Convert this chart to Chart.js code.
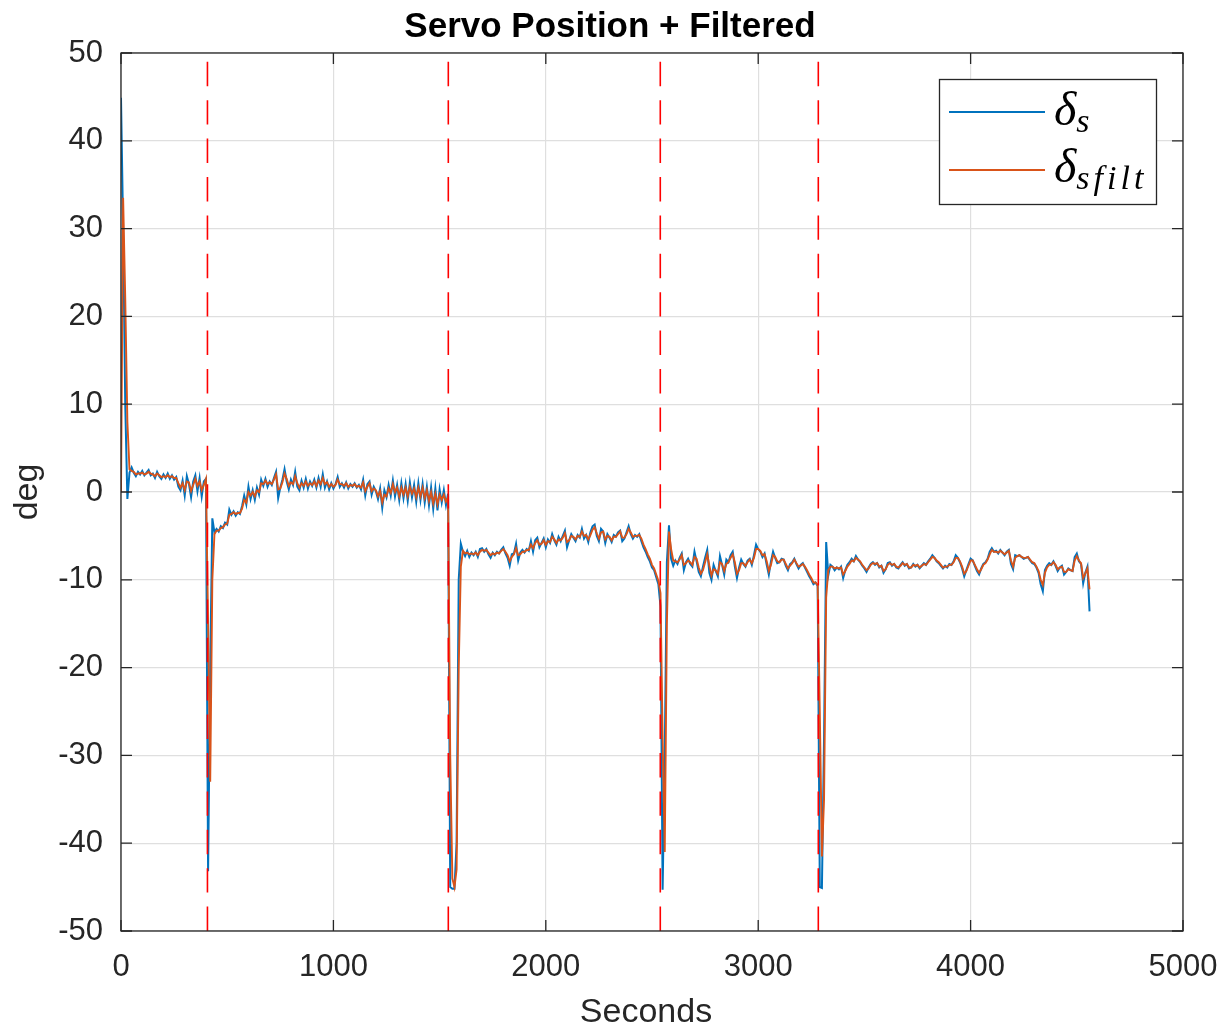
<!DOCTYPE html>
<html>
<head>
<meta charset="utf-8">
<title>Servo Position + Filtered</title>
<script src="https://cdn.jsdelivr.net/npm/chart.js@4.4.1/dist/chart.umd.min.js"></script>
<style>
  html, body { margin: 0; padding: 0; background: #fff; }
  #wrap { width: 1225px; height: 1031px; }
</style>
</head>
<body>
<div id="wrap"><canvas id="servoChart" width="1225" height="1031"></canvas></div>
<script>
// sampling step of the log (seconds)
const sampleStep = 10;

// servo position, one row per 100 s
const servo = [
  44.9, 30, 10, -0.8, 2.2, 2.8, 2.2, 1.8, 2.3, 2.0,
  2.4, 1.9, 2.2, 2.5, 1.9, 2.1, 1.6, 2.3, 1.8, 1.5,
  2.0, 1.6, 2.1, 1.5, 1.9, 1.4, 1.7, 0.6, 0.2, 1.3,
  -0.4, 1.8, 0.9, -0.6, 1.2, 1.9, 0.1, 1.6, -0.5, 1.2,
  1.5, -43.2, -20, -3.0, -4.6, -4.2, -4.5, -3.9, -4.1, -3.5,
  -3.7, -2.0, -2.6, -2.2, -2.7, -2.3, -2.5, -1.6, -0.4, -1.4,
  0.6, -0.8, 0.2, -0.9, 0.5, -0.3, 1.4, 0.7, 1.5, 0.6,
  1.2, 0.8, 1.6, 2.3, -0.7, 0.5, 1.4, 2.6, 1.2, 0.3,
  1.4, 0.8, 2.3, 0.6, 0.2, 1.3, 0.5, 1.5, 0.4, 1.2,
  0.7, 1.4, 0.5, 1.6, 0.6, 2.0, 0.5, 1.2, 0.3, 1.0,
  0.4, 0.9, 1.7, 0.6, 1.0, 0.5, 1.1, 0.4, 0.9, 0.6,
  1.0, 0.5, 0.8, 0.3, 1.4, -0.4, 0.9, 1.2, -0.3, 0.6,
  0.1, -0.8, 0.4, -1.8, 0.2, -0.6, 0.8, -0.4, 1.3, -0.5,
  0.8, -0.9, 1.0, -0.7, 0.9, -1.0, 1.1, -0.6, 0.8, -1.1,
  1.0, -0.9, 0.9, -1.2, 0.6, -1.5, 0.5, -1.9, 0.4, -2.1,
  0.3, -1.2, 0.2, -1.5, -0.2, -45.0, -45.2, -45.2, -40, -10,
  -5.9, -6.8, -7.3, -6.7, -7.4, -6.9, -7.2, -6.8, -7.4, -6.5,
  -6.4, -6.8, -6.5, -7.1, -7.5, -6.9, -7.2, -6.8, -7.0, -6.6,
  -6.3, -7.0, -7.5, -8.4, -7.1, -7.0, -5.9, -7.8, -6.9, -6.6,
  -6.9, -6.5, -6.7, -5.6, -6.8, -5.5, -5.2, -6.3, -5.8, -5.3,
  -6.3, -5.4, -5.8, -4.8, -5.5, -6.0, -5.1, -5.6, -5.0, -4.4,
  -6.3, -5.5, -4.8, -5.2, -5.6, -4.9, -5.2, -4.2, -5.3, -4.9,
  -5.7, -4.6, -3.9, -3.7, -5.0, -5.6, -4.2, -4.5, -5.8, -4.8,
  -5.2, -5.7, -4.9, -5.1, -4.6, -4.4, -5.6, -5.3, -4.6, -3.9,
  -4.8, -5.3, -4.9, -5.1, -4.8, -5.6, -6.3, -6.8, -7.4, -7.9,
  -8.6, -8.9, -9.7, -10.5, -13, -45.3, -30, -8, -3.8, -7.6,
  -8.4, -7.8, -8.2, -7.5, -7.0, -8.9, -8.0, -7.6, -8.2, -8.5,
  -6.8, -7.9, -9.1, -9.6, -8.5, -7.5, -6.6, -9.2, -10.0, -8.3,
  -9.0, -9.6, -7.3, -8.3, -9.4, -7.7, -8.0, -7.2, -6.8, -8.5,
  -9.8, -8.6, -7.7, -8.2, -8.5, -7.8, -7.6, -8.3, -7.2, -6.0,
  -6.5, -6.8, -7.4, -7.0, -8.3, -9.4, -7.9, -6.8, -7.5, -8.1,
  -8.0, -7.6, -7.7, -8.4, -8.9, -8.2, -8.0, -7.6, -8.2, -8.7,
  -8.3, -8.1, -8.6, -9.1, -9.6, -10.0, -10.5, -10.3, -10.7, -45.0,
  -45.1, -28, -5.7, -9.5, -8.3, -8.5, -8.9, -8.6, -8.8, -8.5,
  -9.8, -8.9, -8.3, -8.0, -7.6, -7.9, -7.3, -7.7, -8.0, -8.4,
  -8.7, -9.1, -8.6, -8.2, -8.0, -8.3, -8.1, -8.6, -8.4, -9.2,
  -8.8, -8.1, -8.0, -8.4, -8.2, -8.6, -8.7, -8.3, -8.0, -8.4,
  -8.2, -8.7, -8.6, -8.2, -8.5, -8.3, -8.7, -8.4, -8.1, -8.3,
  -7.9, -7.6, -7.2, -7.5, -7.9, -8.1, -8.4, -8.7, -8.4, -8.6,
  -8.2, -8.3, -7.9, -7.2, -7.5, -8.0, -8.7, -9.6, -8.9, -8.2,
  -7.6, -7.8, -8.4, -9.0, -9.4, -8.7, -8.2, -8.0, -7.6, -6.8,
  -6.4, -6.8, -6.7, -7.0, -6.6, -6.9, -7.2, -6.8, -6.6, -8.2,
  -8.8, -7.2, -7.3, -7.2, -7.4, -7.6, -7.5, -7.4, -7.8, -8.1,
  -8.2, -8.6, -9.2, -10.5, -11.3, -8.9, -8.4, -8.1, -8.3, -7.9,
  -8.4, -9.0, -8.6, -8.4, -9.4, -9.1, -8.7, -8.9, -9.0, -7.4,
  -7.0, -7.9, -8.2, -10.4, -9.2, -8.5, -13.6
];

// filtered servo position, same sampling
const servoFilt = [
  0, 33.5, 22, 8, 2.6, 2.4, 2.3, 2.0, 2.1, 2.1,
  2.2, 2.0, 2.1, 2.3, 2.1, 2.0, 1.8, 2.1, 1.9, 1.7,
  1.8, 1.7, 1.9, 1.7, 1.8, 1.6, 1.6, 1.0, 0.5, 1.0,
  0.2, 1.2, 1.1, 0.1, 0.8, 1.5, 0.7, 1.2, 0.2, 0.8,
  1.5, -15, -33, -10, -4.8, -4.4, -4.4, -4.1, -4.0, -3.7,
  -3.6, -2.6, -2.5, -2.3, -2.5, -2.4, -2.4, -1.9, -0.9, -1.2,
  0.0, -0.4, 0.0, -0.5, 0.2, 0.0, 1.0, 0.9, 1.3, 0.9,
  1.1, 0.9, 1.4, 2.0, 0.3, 0.4, 1.1, 2.1, 1.5, 0.7,
  1.1, 0.9, 1.8, 1.0, 0.5, 1.0, 0.7, 1.2, 0.7, 1.0,
  0.8, 1.2, 0.7, 1.3, 0.9, 1.6, 0.9, 1.1, 0.6, 0.9,
  0.6, 0.8, 1.4, 0.9, 0.9, 0.7, 1.0, 0.6, 0.8, 0.7,
  0.9, 0.6, 0.7, 0.5, 1.1, 0.1, 0.6, 1.0, 0.1, 0.4,
  0.2, -0.5, 0.1, -1.2, -0.3, -0.5, 0.4, -0.1, 0.9, 0.0,
  0.5, -0.5, 0.5, -0.3, 0.5, -0.5, 0.6, -0.2, 0.4, -0.6,
  0.5, -0.5, 0.5, -0.7, 0.2, -1.0, 0.0, -1.3, -0.2, -1.4,
  -0.3, -0.9, -0.3, -1.1, -0.6, -30, -44, -45, -43, -20,
  -8.5, -6.7, -7.0, -6.9, -7.1, -7.0, -7.1, -6.9, -7.2, -6.8,
  -6.6, -6.7, -6.6, -6.9, -7.2, -7.0, -7.1, -6.9, -7.0, -6.7,
  -6.5, -6.8, -7.2, -7.9, -7.4, -7.1, -6.4, -7.2, -7.1, -6.8,
  -6.8, -6.6, -6.6, -6.0, -6.4, -5.8, -5.5, -6.0, -5.9, -5.5,
  -6.0, -5.6, -5.7, -5.1, -5.4, -5.8, -5.4, -5.5, -5.2, -4.7,
  -5.7, -5.5, -5.0, -5.1, -5.4, -5.0, -5.1, -4.5, -5.0, -4.9,
  -5.4, -4.9, -4.3, -4.0, -4.7, -5.3, -4.6, -4.5, -5.4, -5.0,
  -5.1, -5.5, -5.1, -5.1, -4.8, -4.5, -5.2, -5.2, -4.8, -4.2,
  -4.6, -5.1, -5.0, -5.0, -4.9, -5.3, -6.0, -6.5, -7.1, -7.6,
  -8.3, -8.7, -9.4, -10.1, -11.5, -28, -41, -15, -4.5, -6.5,
  -7.8, -7.9, -8.0, -7.7, -7.2, -8.3, -8.1, -7.8, -8.0, -8.3,
  -7.4, -7.6, -8.6, -9.3, -8.9, -8.0, -7.1, -8.4, -9.5, -8.8,
  -8.9, -9.3, -8.0, -8.2, -9.0, -8.2, -8.0, -7.5, -7.1, -8.0,
  -9.3, -8.9, -8.1, -8.1, -8.4, -8.0, -7.7, -8.1, -7.5, -6.5,
  -6.5, -6.7, -7.2, -7.1, -7.9, -9.0, -8.3, -7.2, -7.4, -7.9,
  -8.0, -7.7, -7.7, -8.2, -8.7, -8.4, -8.1, -7.7, -8.1, -8.5,
  -8.4, -8.2, -8.5, -8.9, -9.4, -9.8, -10.3, -10.3, -10.6, -25,
  -41.5, -35, -12, -8.9, -8.5, -8.5, -8.7, -8.6, -8.7, -8.6,
  -9.4, -9.0, -8.5, -8.2, -7.8, -7.9, -7.5, -7.7, -7.9, -8.3,
  -8.6, -8.9, -8.7, -8.3, -8.1, -8.2, -8.1, -8.5, -8.4, -9.0,
  -8.8, -8.3, -8.1, -8.3, -8.2, -8.5, -8.6, -8.4, -8.1, -8.3,
  -8.2, -8.6, -8.6, -8.3, -8.4, -8.3, -8.6, -8.4, -8.2, -8.3,
  -8.0, -7.7, -7.4, -7.5, -7.8, -8.0, -8.3, -8.6, -8.5, -8.5,
  -8.3, -8.3, -8.0, -7.5, -7.5, -7.9, -8.5, -9.3, -9.0, -8.4,
  -7.8, -7.8, -8.3, -8.8, -9.2, -8.8, -8.3, -8.1, -7.7, -7.1,
  -6.6, -6.8, -6.8, -6.9, -6.7, -6.9, -7.1, -6.9, -6.7, -7.8,
  -8.5, -7.5, -7.3, -7.2, -7.4, -7.5, -7.5, -7.4, -7.7, -8.0,
  -8.1, -8.5, -9.0, -10.0, -10.6, -9.2, -8.6, -8.3, -8.3, -8.0,
  -8.3, -8.8, -8.6, -8.5, -9.1, -9.1, -8.8, -8.9, -9.0, -7.8,
  -7.3, -7.8, -8.1, -9.8, -9.3, -8.7, -11.1
];

// mode switch instants (red dashed markers)
const eventTimes = [407, 1541, 2539, 3283];

// axis ticks
const xTickLabels = ['0', '1000', '2000', '3000', '4000', '5000'];
const yTickLabels = ['50', '40', '30', '20', '10', '0', '-10', '-20', '-30', '-40', '-50'];

const seconds = servo.map((v, i) => i * sampleStep);

const AX = '#262626';
const SANS = '"Liberation Sans", Arial, Helvetica, sans-serif';
const SERIF = '"Liberation Serif", "Times New Roman", serif';
Chart.defaults.font.family = SANS;
Chart.defaults.color = AX;

const eventSets = eventTimes.map(t => ({
  data: [{x: t, y: -50}, {x: t, y: 50}],
  borderColor: '#ff0000',
  borderWidth: 1.6,
  borderDash: [24.4, 14],
  pointRadius: 0,
  order: 1
}));

// box, inward ticks, title, x label and the math legend
const matlabFrame = {
  id: 'matlabFrame',
  afterDraw(chart) {
    const {ctx, chartArea: a, scales: {x, y}} = chart;
    ctx.save();
    ctx.strokeStyle = AX;
    ctx.lineWidth = 1.3;
    ctx.strokeRect(a.left, a.top, a.right - a.left, a.bottom - a.top);
    const tl = 11;
    ctx.beginPath();
    x.ticks.forEach(t => {
      const px = x.getPixelForValue(t.value);
      ctx.moveTo(px, a.bottom); ctx.lineTo(px, a.bottom - tl);
      ctx.moveTo(px, a.top); ctx.lineTo(px, a.top + tl);
    });
    y.ticks.forEach(t => {
      const py = y.getPixelForValue(t.value);
      ctx.moveTo(a.left, py); ctx.lineTo(a.left + tl, py);
      ctx.moveTo(a.right, py); ctx.lineTo(a.right - tl, py);
    });
    ctx.stroke();

    // title
    ctx.fillStyle = '#000';
    ctx.font = 'bold 35px ' + SANS;
    ctx.textAlign = 'center';
    ctx.textBaseline = 'alphabetic';
    ctx.fillText('Servo Position + Filtered', 610, 37);

    // x label
    ctx.fillStyle = AX;
    ctx.font = '34px ' + SANS;
    ctx.fillText('Seconds', 646, 1021.5);

    // legend
    const lx = 939.5, ly = 79.5, lw = 217, lh = 125;
    ctx.fillStyle = '#fff';
    ctx.fillRect(lx, ly, lw, lh);
    ctx.strokeStyle = AX;
    ctx.lineWidth = 1.3;
    ctx.strokeRect(lx, ly, lw, lh);
    const rows = [
      {color: '#0072BD', y: 112, sub: 's', base: 125},
      {color: '#D95319', y: 170, sub: 'sfilt', base: 182}
    ];
    rows.forEach(r => {
      ctx.strokeStyle = r.color;
      ctx.lineWidth = 1.8;
      ctx.beginPath();
      ctx.moveTo(949, r.y); ctx.lineTo(1045, r.y);
      ctx.stroke();
      ctx.fillStyle = '#000';
      ctx.textAlign = 'left';
      ctx.font = 'italic 48px ' + SERIF;
      ctx.fillText('δ', 1054, r.base);
      const dw = ctx.measureText('δ').width;
      ctx.font = 'italic 34px ' + SERIF;
      ctx.letterSpacing = '4px';
      ctx.fillText(r.sub, 1054 + dw, r.base + 7);
      ctx.letterSpacing = '0px';
    });
    ctx.restore();
  }
};

new Chart(document.getElementById('servoChart'), {
  type: 'line',
  data: {
    datasets: [
      {
        label: 'δs',
        data: seconds.map((t, i) => ({x: t, y: servo[i]})),
        borderColor: '#0072BD',
        borderWidth: 2,
        pointRadius: 0,
        tension: 0,
        order: 3
      },
      {
        label: 'δsfilt',
        data: seconds.map((t, i) => ({x: t, y: servoFilt[i]})),
        borderColor: '#D95319',
        borderWidth: 1.9,
        pointRadius: 0,
        tension: 0,
        order: 2
      },
      ...eventSets
    ]
  },
  options: {
    responsive: false,
    animation: false,
    devicePixelRatio: 1,
    layout: {padding: {top: 53, right: 42, left: 0, bottom: 0}},
    plugins: {legend: {display: false}, title: {display: false}, tooltip: {enabled: false}},
    scales: {
      x: {
        type: 'linear',
        min: 0, max: 5000,
        afterFit(s) { s.height = 100; s.paddingLeft = 0; s.paddingRight = 0; },
        grid: {color: '#dfdfdf', lineWidth: 1.2, drawTicks: false},
        border: {display: false},
        ticks: {
          stepSize: 1000, padding: 18, maxRotation: 0,
          font: {size: 31}, color: AX,
          callback: (v, i) => xTickLabels[i]
        }
      },
      y: {
        min: -50, max: 50,
        afterFit(s) { s.width = 121; s.paddingTop = 0; s.paddingBottom = 0; },
        grid: {color: '#dfdfdf', lineWidth: 1.2, drawTicks: false},
        border: {display: false},
        ticks: {
          stepSize: 10, padding: 18,
          font: {size: 31}, color: AX,
          callback: (v, i, all) => yTickLabels[all.length - 1 - i]
        },
        title: {display: true, text: 'deg', font: {size: 34}, color: AX, padding: {top: 7}}
      }
    }
  },
  plugins: [matlabFrame]
});
</script>
</body>
</html>
